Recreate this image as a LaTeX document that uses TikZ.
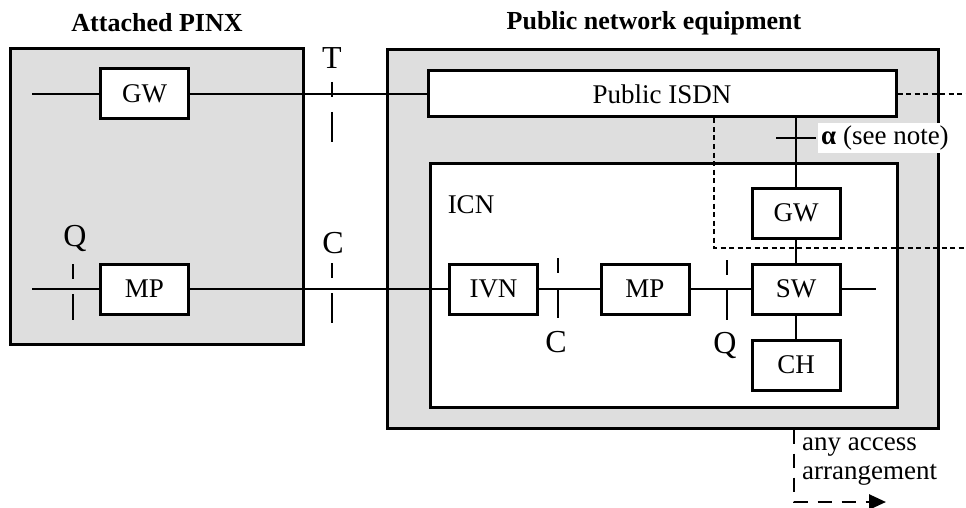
\documentclass[tikz,border=0pt]{standalone}
\usepackage{fontspec}
\setmainfont{Liberation Serif}
\usetikzlibrary{arrows.meta}
\definecolor{shade}{RGB}{222,222,222}

\begin{document}
\begin{tikzpicture}[x=1pt,y=-1pt]
	\tikzstyle{every node}+=[inner sep=0pt, font=\fontsize{27}{29}\selectfont]
	\tikzstyle{zonebox}=[draw=black, line width=3pt, fill=shade]
	\tikzstyle{unit}=[draw=black, line width=3pt, fill=white, minimum width=88pt, minimum height=50pt]
	\tikzstyle{heading}=[font=\fontsize{26}{29}\selectfont\bfseries]
	\tikzstyle{reflbl}=[font=\fontsize{32}{34}\selectfont]
	\tikzstyle{link}=[black, line width=2.6pt]
	\tikzstyle{refpt}=[black, line width=2.6pt, dash pattern=on 15pt off 15pt on 30pt off 15pt]
	\tikzstyle{dotline}=[black, line width=2.6pt, dash pattern=on 5pt off 3.5pt]
	\tikzstyle{access}=[black, line width=2.6pt, dash pattern=on 14pt off 10pt]
	\useasboundingbox (0,0) rectangle (966,508);
	\node [heading] (ttlpinx) at (157,23) {Attached PINX};
	\node [heading] (ttlpne) at (654,23) {Public network equipment};
	\node [zonebox, minimum width=293pt, minimum height=295pt] (pinx) at (156.5,196.5) {};
	\node [zonebox, minimum width=551pt, minimum height=378pt] (pne) at (662.5,239) {};
	\node [unit, minimum width=467pt, minimum height=244pt] (icn) at (663.5,285) {};
	\node (icnlbl) at (471,205) {ICN};
	\node [unit, minimum width=468pt, minimum height=46pt] (isdn) at (662,94) {Public ISDN};
	\node [unit] (gwa) at (144.5,94) {GW};
	\node [unit] (mpa) at (144.5,289) {MP};
	\node [unit] (ivn) at (493.5,289) {IVN};
	\node [unit] (mpb) at (645,289) {MP};
	\node [unit] (gwb) at (796,213) {GW};
	\node [unit] (sw) at (796,289) {SW};
	\node [unit] (ch) at (796,365) {CH};
	\coordinate (gwin) at (32,94);
	\coordinate (mpin) at (32,289);
	\coordinate (swout) at (876,289);
	\coordinate (easta) at (966,94);
	\coordinate (eastb) at (966,248);
	\coordinate (accend) at (886,502);
	\draw [link] (gwin) -- (gwa);
	\draw [link] (gwa) -- (gwa -| isdn.west);
	\draw [link] (mpin) -- (mpa);
	\draw [link] (mpa) -- (ivn);
	\draw [link] (ivn) -- (mpb);
	\draw [link] (mpb) -- (sw);
	\draw [link] (sw) -- (swout);
	\draw [link] (isdn.south -| gwb) -- (gwb);
	\draw [link] (gwb) -- (sw);
	\draw [link] (sw) -- (ch);
	\draw [link] (776,138) -- (816,138);
	\draw [refpt] (332,82) -- (332,142);
	\draw [refpt] (73,264) -- (73,320);
	\draw [refpt] (332,263) -- (332,323);
	\draw [refpt] (558,258) -- (558,318);
	\draw [refpt] (727,260) -- (727,320);
	\node [reflbl] (lblt) at (332,58) {T};
	\node [reflbl] (lblqa) at (75,238) {Q};
	\node [reflbl] (lblca) at (333,243) {C};
	\node [reflbl] (lblcb) at (556,342) {C};
	\node [reflbl] (lblqb) at (725,345) {Q};
	\draw [dotline] (isdn.east) -- (easta);
	\draw [dotline] (isdn.south) ++(52,0) |- (eastb);
	\node [fill=white, anchor=west, inner xsep=3pt, inner ysep=3pt] (alpha) at (818,138) {{\bfseries α} (see note)};
	\draw [access, -{Triangle[length=17pt,width=15pt]}] (pne.south) ++(131.5,0) |- (accend);
	\node [anchor=west, align=left] (acclbl) at (802,462) {any access\\arrangement};
\end{tikzpicture}
\end{document}
